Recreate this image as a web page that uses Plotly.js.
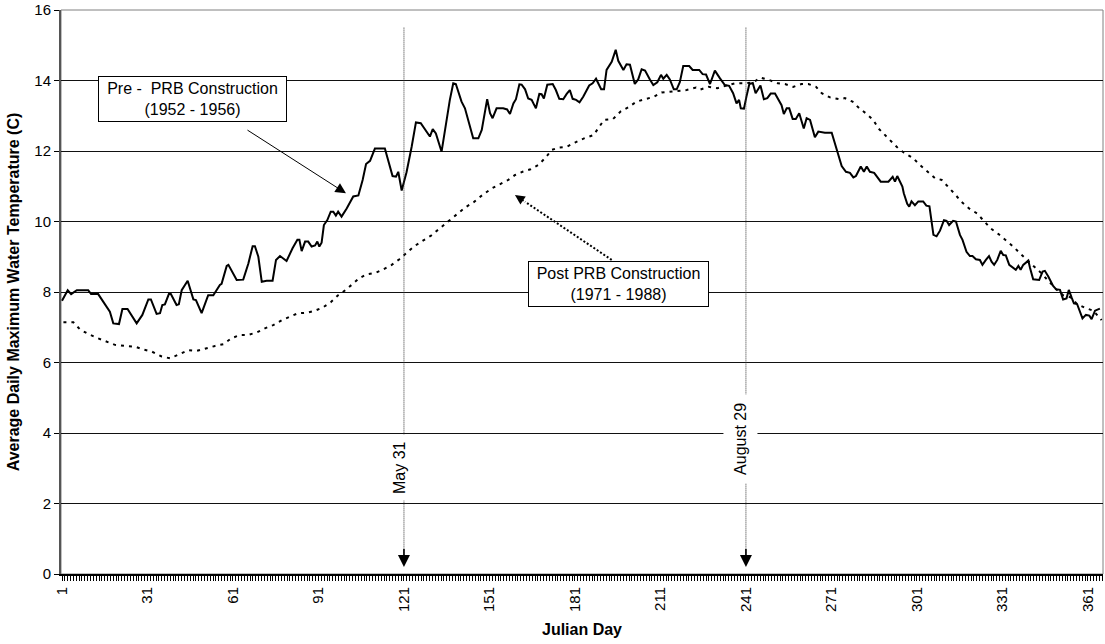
<!DOCTYPE html>
<html>
<head>
<meta charset="utf-8">
<script src="https://cdn.plot.ly/plotly-3.0.1.min.js"></script>
<style>html,body{margin:0;padding:0;background:#fff;}#chart{width:1105px;height:644px;}</style>
</head>
<body>
<div id="chart"></div>
<script>
// Pre-PRB construction (1952-1956): [julian day, temperature C]
var preSeries = [
 [1,7.75],[3,8.05],[4.2,7.94],[6.2,8.05],[10.2,8.05],[11.2,7.94],[13.7,7.94],[17.8,7.44],[19,7.11],[21,7.09],
 [22.2,7.52],[24,7.52],[27.2,7.11],[29.2,7.35],[31.3,7.79],[32.2,7.79],[34.2,7.38],[35.4,7.4],[36.2,7.63],[37.1,7.65],
 [38.5,7.94],[39.2,7.94],[41.2,7.63],[42,7.65],[43,8.05],[45.1,8.32],[47.1,7.79],[48,7.77],[50,7.4],[52.3,7.91],
 [54.1,7.91],[56.4,8.2],[57,8.23],[58.8,8.74],[59.4,8.77],[62.3,8.34],[64.6,8.35],[66.4,8.81],[67.9,9.3],[68.7,9.3],
 [69.9,9.0],[71.1,8.29],[72.8,8.32],[74.9,8.32],[76.1,8.91],[77.5,9.02],[79.8,8.88],[81.9,9.24],[83.6,9.48],[84.3,9.48],
 [85.1,9.16],[86.3,9.43],[87.4,9.43],[88.6,9.29],[89.8,9.32],[90.6,9.43],[91.3,9.29],[92.1,9.4],[92.9,9.9],[94.1,10.04],
 [95.3,10.28],[96.2,10.28],[97.1,10.17],[97.9,10.28],[99.1,10.14],[100.9,10.37],[103.2,10.71],[105,10.74],[106.5,11.18],[107.7,11.63],
 [109.1,11.72],[110.8,12.07],[114.3,12.07],[117,11.29],[118.2,11.27],[119,11.41],[120.2,10.88],[121.9,11.4],[123.7,12.12],[125.2,12.81],
 [126.9,12.79],[128.4,12.61],[130.1,12.41],[131.1,12.62],[132.2,12.5],[134.2,11.98],[135.7,12.79],[137.1,13.45],[138.3,13.92],[139.2,13.9],
 [141.2,13.4],[142.4,13.21],[145.3,12.36],[147.1,12.36],[148.3,12.6],[150.2,13.47],[151.2,13.07],[152.1,12.93],[153.5,13.21],[155.8,13.21],
 [157.2,13.18],[158.2,13.05],[159.4,13.35],[160.3,13.47],[161.5,13.89],[162.3,13.88],[163.5,13.75],[164.6,13.49],[165.8,13.45],[167.3,13.21],
 [168.5,13.62],[169.3,13.61],[170.1,13.49],[171.3,13.88],[173.2,13.9],[174.3,13.73],[175.5,13.48],[176.9,13.47],[178.1,13.62],[179.2,13.73],
 [180.2,13.48],[181.4,13.45],[182.6,13.38],[183.9,13.54],[186,13.86],[187.2,13.92],[188.4,14.05],[189.3,13.9],[190.2,13.75],[191.2,13.75],
 [192.1,14.3],[193.9,14.53],[195.3,14.87],[196.2,14.56],[198,14.3],[199.1,14.46],[200.3,14.45],[202,13.9],[203.2,14.03],[204.4,14.32],
 [205.6,14.28],[207.3,14.03],[208.5,13.87],[209.9,13.95],[211.2,14.16],[212,14.05],[213.2,14.16],[214.3,14.03],[215.7,13.75],[216.7,13.75],
 [217.8,13.95],[219,14.41],[221.1,14.41],[222.3,14.3],[224.6,14.3],[225.8,14.18],[227,14.17],[228.4,13.9],[230.1,14.28],[231.9,14.06],
 [233.6,13.87],[235.1,13.85],[236.5,13.64],[237.7,13.35],[238.6,13.45],[239.2,13.21],[240.3,13.2],[241.2,13.55],[242.2,13.9],[243.4,13.93],
 [244.4,13.64],[246.1,13.86],[247.3,13.47],[248.5,13.5],[249.7,13.63],[251.2,13.63],[252.7,13.4],[253.5,13.3],[254.3,13.05],[255.3,13.21],
 [256.2,13.21],[257.4,12.91],[258.5,12.91],[259.7,13.07],[261.3,12.64],[262.3,12.93],[263.5,12.88],[265.2,12.39],[266.4,12.55],[268.7,12.52],
 [271.1,12.52],[272.8,12.03],[274.6,11.57],[276.1,11.41],[277.5,11.38],[278.7,11.25],[279.6,11.29],[281.3,11.56],[282.4,11.41],[283.4,11.56],
 [284.5,11.41],[286,11.38],[287.1,11.27],[288.3,11.13],[291,11.13],[292.5,11.27],[293.3,11.13],[294.1,11.29],[295.9,10.99],[296.4,10.8],
 [297.6,10.5],[298.3,10.42],[299.1,10.57],[300.3,10.46],[301.5,10.57],[303.2,10.57],[304.3,10.45],[305.4,10.43],[306.8,9.62],[307.9,9.58],
 [309.1,9.74],[310.5,10.04],[311.4,10.02],[312.3,9.9],[313.7,10.02],[314.7,10.0],[316.1,9.62],[317,9.48],[318.4,9.14],[319.6,9.02],
 [320.5,9.02],[321.7,8.93],[323.1,8.91],[324,8.77],[325.2,8.91],[326.3,9.02],[327.2,8.86],[328.1,8.77],[329.2,8.91],[330.4,9.17],
 [331.3,9.05],[332.2,9.04],[333.4,8.77],[334.8,8.7],[335.7,8.63],[336.6,8.74],[337.4,8.63],[338.3,8.77],[340.1,8.89],[340.7,8.68],
 [341.8,8.36],[343.9,8.34],[345.1,8.58],[345.9,8.6],[347.1,8.44],[348.8,8.17],[349.8,8.08],[351.2,8.06],[352.3,7.79],[353.5,7.82],
 [354.3,8.06],[355.3,7.84],[356.1,7.68],[357.2,7.66],[358.2,7.44],[359.1,7.25],[360.3,7.35],[361.5,7.33],[362.3,7.23],[363.5,7.47],
 [365.2,7.53]
];
// Post-PRB construction (1971-1988): [julian day, temperature C]
var postSeries = [
 [1.5,7.14],[5,7.14],[7.3,6.94],[10.2,6.81],[13.2,6.7],[16.7,6.59],[19.6,6.5],[23.1,6.47],[26.6,6.45],[29.5,6.37],
 [32.5,6.31],[36,6.17],[38.9,6.12],[42.4,6.24],[45.3,6.35],[48.3,6.33],[51.2,6.4],[54.7,6.47],[57.6,6.52],[60.5,6.69],
 [63.5,6.78],[66.1,6.78],[69.3,6.85],[72.2,6.97],[75.1,7.06],[78.1,7.2],[81,7.3],[83.9,7.4],[86.9,7.41],[89.8,7.47],
 [92.7,7.57],[95.3,7.71],[97.9,7.91],[100.6,8.06],[102.6,8.2],[105.3,8.39],[107.9,8.5],[111.2,8.55],[113.7,8.64],[116.7,8.77],
 [119.4,8.93],[121.9,9.1],[124.5,9.29],[127.5,9.45],[130.5,9.6],[133.5,9.8],[136.5,10.0],[139.5,10.2],[142.5,10.4],[145.5,10.55],
 [148.5,10.75],[151.8,10.94],[154.7,11.06],[157.6,11.18],[160,11.32],[162.6,11.41],[165.4,11.48],[168.1,11.6],[170.8,11.82],[172.8,12.03],
 [175.5,12.1],[178.1,12.12],[181,12.24],[184.2,12.36],[187.5,12.45],[189.3,12.67],[191.2,12.88],[194.4,12.91],[197,13.12],[199.7,13.24],
 [202.6,13.4],[205.6,13.47],[208.7,13.54],[211.4,13.66],[214.1,13.68],[217.2,13.7],[220.2,13.73],[223.5,13.8],[224.9,13.74],[227.8,13.82],
 [231,13.78],[234.3,13.86],[237.2,13.92],[240.3,13.92],[243.4,13.94],[246.1,14.08],[249.3,14.01],[252.2,13.92],[254.7,13.9],[257.6,13.82],
 [260.5,13.9],[262.9,13.9],[265.6,13.82],[267.6,13.64],[270.5,13.52],[273.7,13.47],[275.7,13.5],[278.4,13.4],[280.8,13.21],[283.4,13.05],
 [285.7,12.88],[287.5,12.64],[289.4,12.48],[292.1,12.28],[294.5,12.07],[296.5,11.95],[299.5,11.81],[302.1,11.6],[304.6,11.41],[307.3,11.23],
 [309.7,11.18],[312,10.99],[314.3,10.78],[316.6,10.56],[319.3,10.37],[322.1,10.23],[324.6,10.02],[326.8,9.81],[329.5,9.65],[332.2,9.48],
 [334.8,9.29],[337.4,9.08],[339.8,8.91],[342.4,8.7],[344.7,8.53],[347.4,8.29],[349.8,8.08],[352.3,7.91],[354.9,7.85],[357.2,7.66],
 [360.3,7.54],[362.9,7.47],[365.8,7.2]
];
var tickDays = [1,31,61,91,121,151,181,211,241,271,301,331,361];
var tickLabels = tickDays.map(String);
var yTicks = [0,2,4,6,8,10,12,14,16];
var markerDays = [121, 241];
var markerLabels = ['May 31', 'August 29'];

var FONT = 'Liberation Sans, Arial, Helvetica, sans-serif';

var traces = [
  {x: postSeries.map(function(p){return p[0];}), y: postSeries.map(function(p){return p[1];}),
   type: 'scatter', mode: 'lines', line: {color: '#000', width: 2, dash: '3px,5px'}, hoverinfo: 'skip'},
  {x: preSeries.map(function(p){return p[0];}), y: preSeries.map(function(p){return p[1];}),
   type: 'scatter', mode: 'lines', line: {color: '#000', width: 2}, hoverinfo: 'skip'}
];

var shapes = [
  {type: 'rect', xref: 'paper', yref: 'paper', x0: 0, x1: 1, y0: 0, y1: 1, line: {color: '#808080', width: 1}, layer: 'below'}
];
markerDays.forEach(function(d){
  shapes.push({type: 'line', xref: 'x', yref: 'y', x0: d, x1: d, y0: 15.5, y1: 0.5,
               line: {color: '#333', width: 1, dash: '1px,1px'}});
});
// dotted leader of the Post PRB callout
shapes.push({type: 'line', xref: 'x', yref: 'y', x0: 193.9, y0: 8.91, x1: 163.5, y1: 10.56,
             line: {color: '#000', width: 2, dash: '2px,2px'}});

var annotations = [
  {x: 46.8, y: 13.475, xref: 'x', yref: 'y', text: 'Pre - \u00a0PRB Construction<br>(1952 - 1956)',
   showarrow: false, font: {family: FONT, size: 16, color: '#000'}, bgcolor: '#fff',
   bordercolor: '#000', borderwidth: 1, borderpad: 1, width: 185, height: 42, align: 'center'},
  {x: 100.65, y: 10.8, ax: 65.56, ay: 12.62, xref: 'x', yref: 'y', axref: 'x', ayref: 'y', text: '',
   showarrow: true, arrowhead: 2, arrowsize: 2.1, arrowwidth: 1, arrowcolor: '#000', standoff: 0},
  {x: 196.4, y: 8.227, xref: 'x', yref: 'y', text: 'Post PRB Construction<br>(1971 - 1988)',
   showarrow: false, font: {family: FONT, size: 16, color: '#000'}, bgcolor: '#fff',
   bordercolor: '#000', borderwidth: 1, borderpad: 1, width: 177, height: 42, align: 'center'},
  {x: 159.95, y: 10.75, ax: 163.5, ay: 10.56, xref: 'x', yref: 'y', axref: 'x', ayref: 'y', text: '',
   showarrow: true, arrowhead: 2, arrowsize: 1.3, arrowwidth: 1.5, arrowcolor: '#000', standoff: 0}
];
var labelY = [3.035, 3.83];
var labelPad = [6, 8];
markerDays.forEach(function(d, i){
  annotations.push({x: d, y: labelY[i], xref: 'x', yref: 'y', text: markerLabels[i], textangle: -90,
    showarrow: false, xshift: -5, bgcolor: '#fff', borderpad: labelPad[i],
    font: {family: FONT, size: 16, color: '#000'}});
  annotations.push({x: d, y: 0.2, ax: d, ay: 0.75, xref: 'x', yref: 'y', axref: 'x', ayref: 'y', text: '',
    showarrow: true, arrowhead: 2, arrowsize: 1.5, arrowwidth: 1.6, arrowcolor: '#000', standoff: 0});
});

var layout = {
  width: 1105, height: 644,
  margin: {l: 61, r: 2, t: 10, b: 70, pad: 0},
  paper_bgcolor: '#fff', plot_bgcolor: '#fff',
  showlegend: false,
  font: {family: FONT, color: '#000'},
  xaxis: {
    range: [0.65, 366.3], tickmode: 'array', tickvals: tickDays, ticktext: tickLabels, tickangle: -90,
    ticks: 'outside', ticklen: 5, tickwidth: 1, tickcolor: '#000',
    minor: {tickmode: 'linear', tick0: 1, dtick: 1, ticks: 'outside', ticklen: 5, tickwidth: 1, tickcolor: '#000', showgrid: false},
    showline: true, linecolor: '#000', linewidth: 2, showgrid: false, zeroline: false,
    tickfont: {family: FONT, size: 15, color: '#000'},
    title: {text: '<b>Julian Day</b>', font: {family: FONT, size: 16, color: '#000'}, standoff: 13}
  },
  yaxis: {
    range: [0, 16], tickmode: 'array', tickvals: yTicks, ticktext: yTicks.map(String),
    ticks: 'outside', ticklen: 5, tickwidth: 1, tickcolor: '#000',
    showline: true, linecolor: '#555', linewidth: 2, showgrid: true, gridcolor: '#111', gridwidth: 1, zeroline: false,
    tickfont: {family: FONT, size: 15, color: '#000'},
    title: {text: '<b>Average Daily Maximum Water Temperature (C)</b>', font: {family: FONT, size: 16, color: '#000'}, standoff: 11}
  },
  shapes: shapes,
  annotations: annotations
};

Plotly.newPlot('chart', traces, layout, {displayModeBar: false, staticPlot: true});
</script>
</body>
</html>
